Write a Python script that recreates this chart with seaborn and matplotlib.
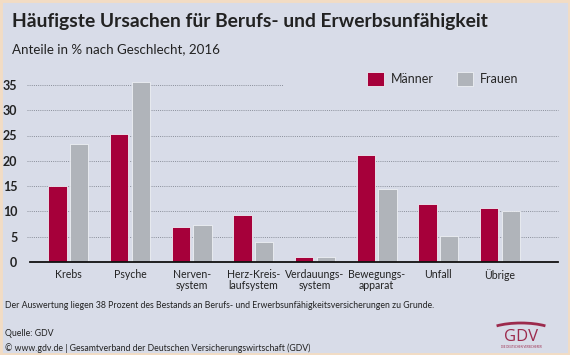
import matplotlib
matplotlib.use('Agg')
import matplotlib.pyplot as plt
from matplotlib.patches import Arc, Rectangle
import seaborn as sns
import pandas as pd

# Daten (Anteile in %, 2016)
kategorien = ['Krebs', 'Psyche', 'Nerven-\nsystem', 'Herz-Kreis-\nlaufsystem',
              'Verdauungs-\nsystem', 'Bewegungs-\napparat', 'Unfall', 'Übrige']
maenner = [15.0, 25.2, 7.0, 9.3, 1.0, 21.2, 11.5, 10.7]
frauen = [23.3, 35.6, 7.3, 3.9, 0.9, 14.5, 5.2, 10.1]
yticks = [0, 5, 10, 15, 20, 25, 30, 35]

df = pd.DataFrame({'Ursache': kategorien * 2,
                   'Anteil': maenner + frauen,
                   'Geschlecht': ['Männer'] * len(kategorien) + ['Frauen'] * len(kategorien)})

bg = '#d8dce8'
rot = '#a6003a'
grau = '#b0b4ba'

sns.set_style('white')
plt.rcParams['font.family'] = ['Lato', 'DejaVu Sans']

fig = plt.figure(figsize=(5.7, 3.55), dpi=100, facecolor=bg)
ax = fig.add_axes([30 / 570, 1 - 262 / 355, 528 / 570, 37 * 5.06 / 355])
ax.set_facecolor(bg)

sns.barplot(data=df, x='Ursache', y='Anteil', hue='Geschlecht', ax=ax,
            palette={'Männer': rot, 'Frauen': grau}, saturation=1, width=0.7, gap=0.15,
            edgecolor='#eef0f5', linewidth=0.6, legend=True, zorder=3)

ax.set_xlim(-0.62, 7.94)
ax.set_ylim(0, 37)
ax.set_yticks(yticks)
ax.set_yticklabels([str(t) for t in yticks], fontsize=9, fontweight='bold', color='#222222')
ax.set_xticklabels(kategorien, fontsize=7.6, color='#222222', linespacing=1.05)
ax.tick_params(axis='y', length=0, pad=9)
ax.tick_params(axis='x', length=0, pad=5)
ax.set_xlabel('')
ax.set_ylabel('')
for s in ['top', 'right', 'left']:
    ax.spines[s].set_visible(False)
ax.spines['bottom'].set_linewidth(1.3)
ax.spines['bottom'].set_color('#111111')
ax.spines['bottom'].set_zorder(4)

# gepunktete Hilfslinien
for t in yticks[1:]:
    xmax = 0.48 if t == 35 else 1.0
    ax.axhline(t, xmin=-0.005, xmax=xmax, color='#8a8f9a', lw=0.7,
               ls=(0, (1, 1.2)), zorder=1, clip_on=False)

# Legende
h, l = ax.get_legend_handles_labels()
ax.legend(h, l, ncol=2, frameon=False, loc='center left',
          bbox_to_anchor=(356 / 570, 1 - 79 / 355), bbox_transform=fig.transFigure,
          fontsize=9, handlelength=1.3, handleheight=1.3, columnspacing=1.9,
          handletextpad=0.55)

# Texte
fig.text(12 / 570, 1 - 22 / 355, 'Häufigste Ursachen für Berufs- und Erwerbsunfähigkeit',
         fontsize=13.9, fontweight='bold', color='#222222', va='center')
fig.text(12 / 570, 1 - 49 / 355, 'Anteile in % nach Geschlecht, 2016',
         fontsize=9.6, color='#222222', va='center')
fig.text(5 / 570, 1 - 305 / 355,
         'Der Auswertung liegen 38 Prozent des Bestands an Berufs- und Erwerbsunfähigkeitsversicherungen zu Grunde.',
         fontsize=6.35, color='#222222', va='center')
fig.text(5 / 570, 1 - 333 / 355, 'Quelle: GDV', fontsize=6.35, color='#222222', va='center')
fig.text(5 / 570, 1 - 348 / 355,
         '© www.gdv.de | Gesamtverband der Deutschen Versicherungswirtschaft (GDV)',
         fontsize=6.35, color='#222222', va='center')

# Logo
logo = '#9c2a4c'
fig.text(521 / 570, 1 - 337 / 355, 'GDV', fontsize=12, color=logo, ha='center', va='center',
         family=['Open Sans', 'DejaVu Sans'])
fig.patches.append(Arc((521 / 570, 1 - 334 / 355), 72 / 570, 22 / 355, theta1=28, theta2=152,
                       transform=fig.transFigure, color=logo, lw=2))
fig.text(521 / 570, 1 - 346.5 / 355, 'DIE DEUTSCHEN VERSICHERER', fontsize=2, color=logo,
         ha='center', va='center')

# Rahmen
fig.patches.append(Rectangle((0, 0), 1, 1, transform=fig.transFigure, fill=False,
                             edgecolor='#f2dcc4', lw=3.5))

fig.savefig('out.png', dpi=100, facecolor=bg)
plt.close()
